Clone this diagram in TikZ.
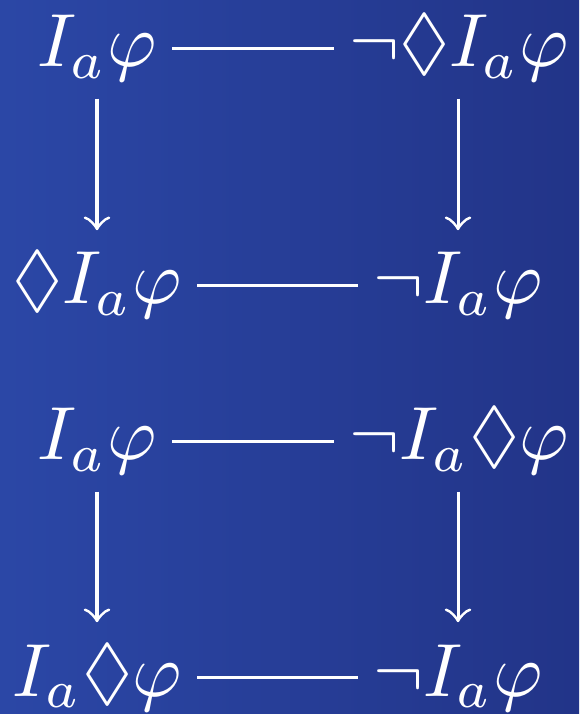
\documentclass[tikz,border=0pt]{standalone}
\usepackage{amssymb}
\definecolor{bgleft}{HTML}{2B47A6}
\definecolor{bgright}{HTML}{223488}
\tikzset{
  fm/.style={text=white, anchor=base, inner xsep=1.9pt, inner ysep=2pt,
    text height=7.6pt, text depth=2pt},
  hline/.style={draw=white, line width=0.4pt},
  varrow/.style={draw=white, line width=0.4pt, ->}
}
\begin{document}
\begin{tikzpicture}[x=0.1328pt, y=-0.1328pt]
\shade[left color=bgleft, right color=bgright] (0,0) rectangle (579,714);
\useasboundingbox (0,0) rectangle (579,714);
% top square
\node[fm] (a1) at (97,67) {$I_a\varphi$};
\node[fm] (b1) at (459,67) {$\neg\lozenge I_a\varphi$};
\node[fm] (a2) at (97,304) {$\lozenge I_a\varphi$};
\node[fm] (b2) at (458,304) {$\neg I_a\varphi$};
% bottom square
\node[fm] (a3) at (97,460) {$I_a\varphi$};
\node[fm] (b3) at (459,460) {$\neg I_a\lozenge\varphi$};
\node[fm] (a4) at (97,696) {$I_a\lozenge\varphi$};
\node[fm] (b4) at (458,696) {$\neg I_a\varphi$};
\foreach \l/\r in {a1/b1,a2/b2,a3/b3,a4/b4}
  \draw[hline] ([yshift=2.5pt]\l.base east) -- ([yshift=2.5pt]\r.base west);
\draw[varrow] (a1.south) -- (a2.north);
\draw[varrow] (a3.south) -- (a4.north);
\draw[varrow] (a1.south -| b2.south) -- (b2.north);
\draw[varrow] (a3.south -| b4.south) -- (b4.north);
\end{tikzpicture}
\end{document}
